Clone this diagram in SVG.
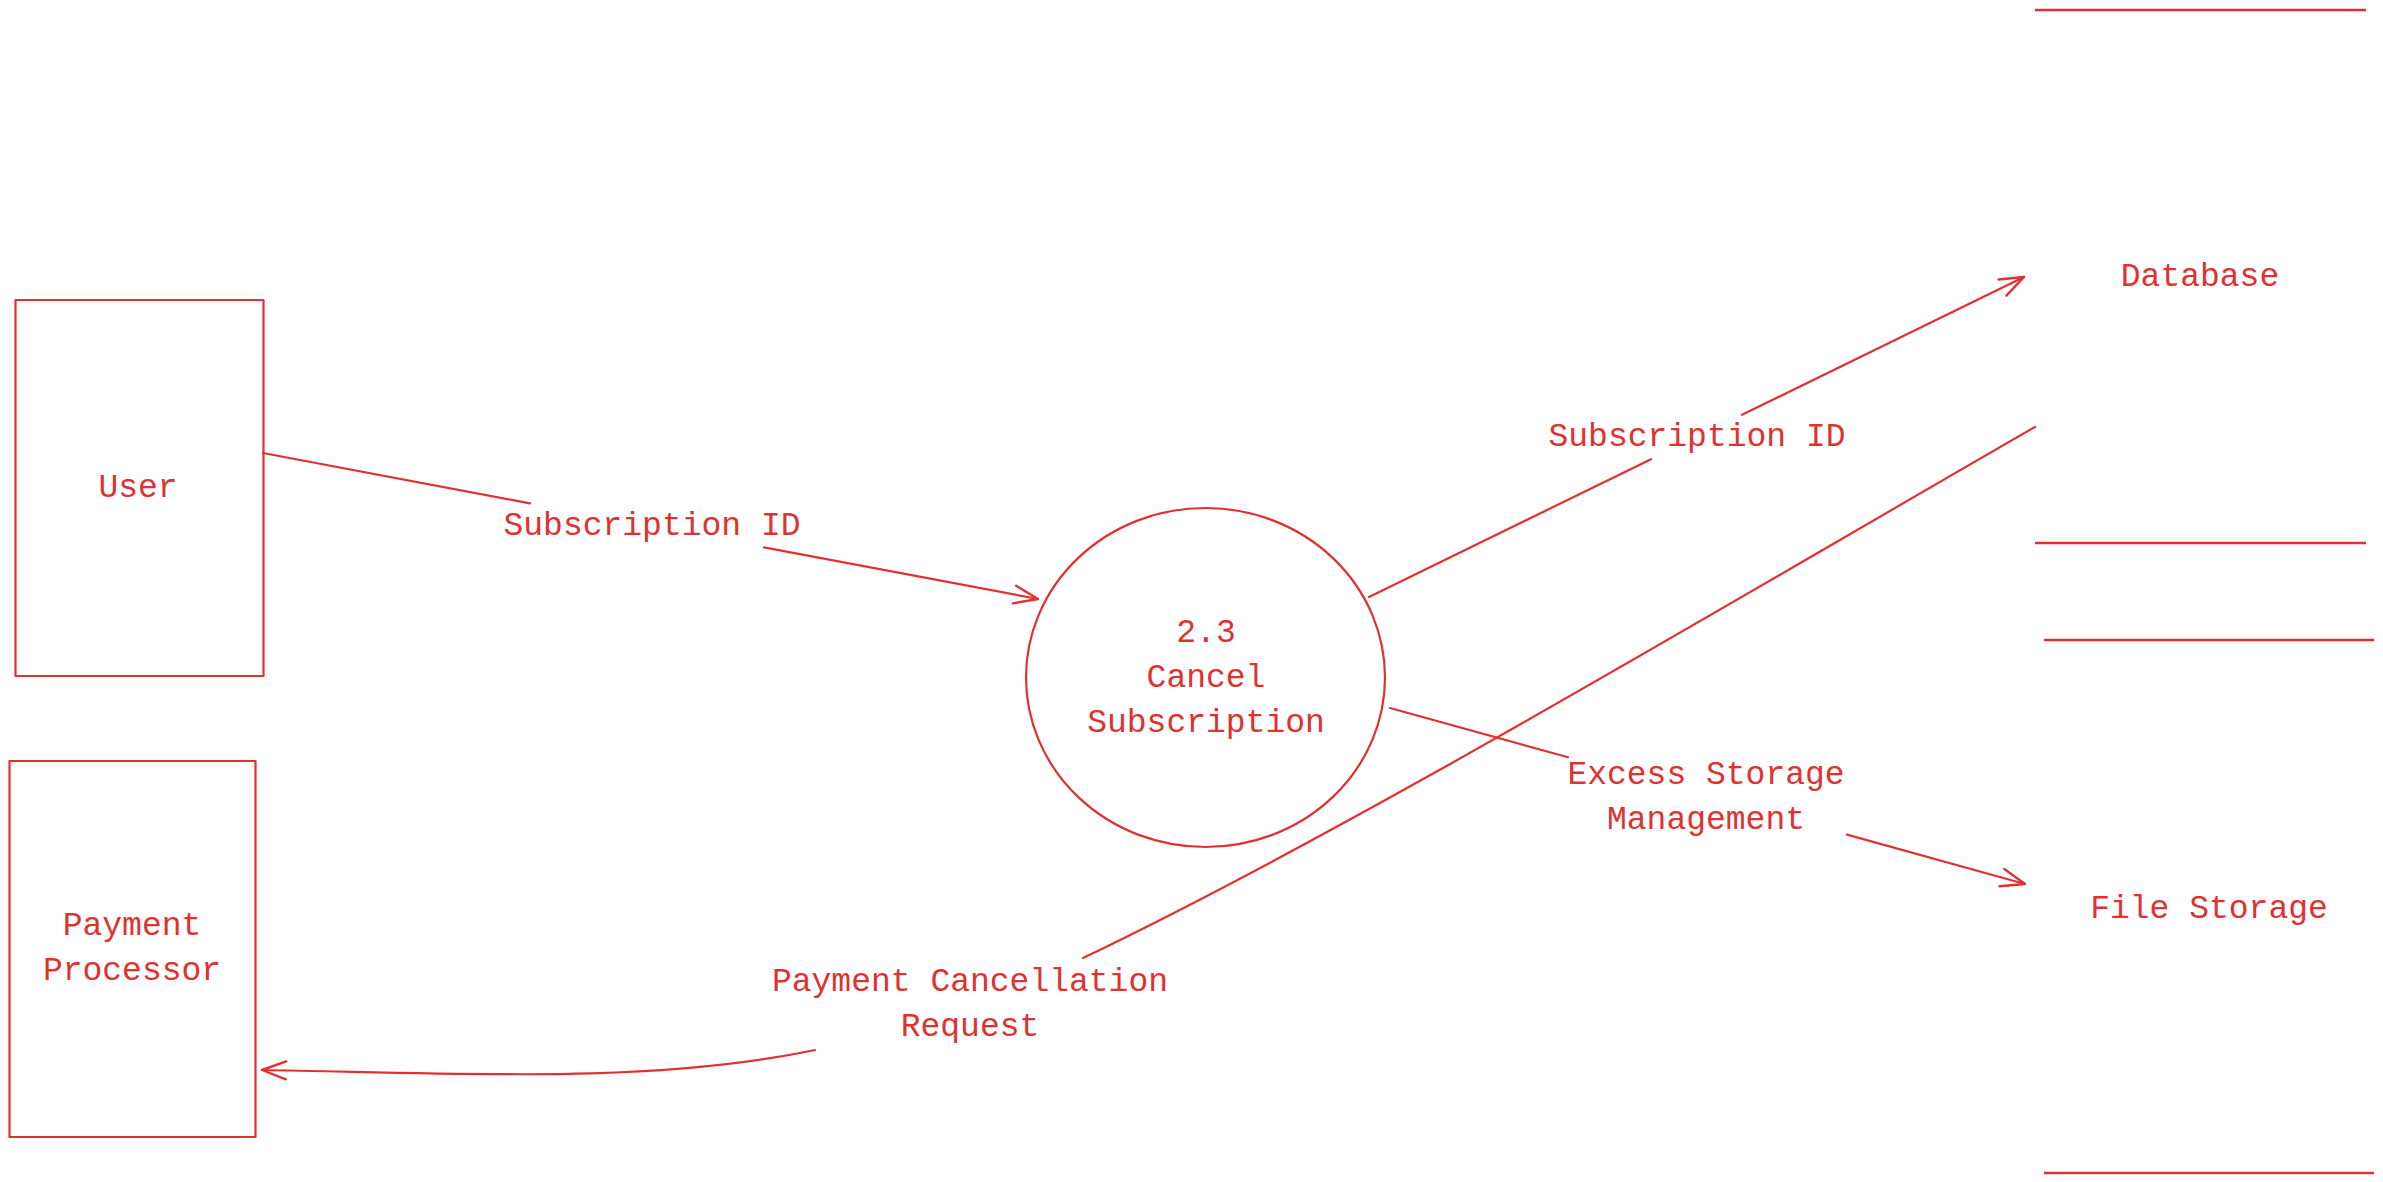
<svg xmlns="http://www.w3.org/2000/svg" width="2383" height="1182" viewBox="0 0 2383 1182">
<style>
.s{fill:none;stroke:#e03131;stroke-width:2.2;stroke-linecap:round;stroke-linejoin:round}
.st{fill:none;stroke:#e03131;stroke-width:2.5}
.t{font-family:"Liberation Mono","DejaVu Sans Mono",monospace;font-size:33px;fill:#e03131;text-anchor:middle}
</style>
<defs>
<marker id="ah" markerUnits="userSpaceOnUse" markerWidth="40" markerHeight="40" viewBox="-30 -20 40 40" refX="0" refY="0" orient="auto" overflow="visible">
<path d="M-24 -9 L0 0 L-24 9" fill="none" stroke="#e03131" stroke-width="2.4" stroke-linecap="round" stroke-linejoin="round"/>
</marker>
</defs>
<rect width="2383" height="1182" fill="#ffffff"/>
<g id="user">
<rect class="s" x="15.5" y="300" width="248" height="376"/>
<text class="t" x="138" y="497">User</text>
</g>
<g id="payment-processor">
<rect class="s" x="9.5" y="761" width="246" height="376"/>
<text class="t" x="132" y="935">Payment</text>
<text class="t" x="132" y="980">Processor</text>
</g>
<g id="process-2-3">
<ellipse class="s" cx="1205.5" cy="677.5" rx="179.5" ry="169.5"/>
<text class="t" x="1206" y="642">2.3</text>
<text class="t" x="1206" y="687">Cancel</text>
<text class="t" x="1206" y="732">Subscription</text>
</g>
<g id="database">
<line class="st" x1="2035" y1="10" x2="2366" y2="10"/>
<line class="st" x1="2035" y1="543" x2="2366" y2="543"/>
<text class="t" x="2200" y="286">Database</text>
</g>
<g id="file-storage">
<line class="st" x1="2044" y1="640" x2="2374" y2="640"/>
<line class="st" x1="2044" y1="1173" x2="2374" y2="1173"/>
<text class="t" x="2209" y="918">File Storage</text>
</g>
<g id="connectors">
<path class="s" d="M263 453 L530 503.3"/>
<path class="s" d="M764 547.4 L1038 599" marker-end="url(#ah)"/>
<text class="t" x="652" y="535">Subscription ID</text>
<path class="s" d="M1369 597 L1651 459.2"/>
<path class="s" d="M1742 414.8 L2024 277" marker-end="url(#ah)"/>
<text class="t" x="1697" y="446">Subscription ID</text>
<path class="s" d="M1390 708 L1568 757.3"/>
<path class="s" d="M1847 834.6 L2025 884" marker-end="url(#ah)"/>
<text class="t" x="1706" y="784">Excess Storage</text>
<text class="t" x="1706" y="829">Management</text>
<path class="s" d="M2035 427 C1700 620 1350 830 1083 958"/>
<path class="s" d="M815 1050 C650 1085 450 1073 262 1070" marker-end="url(#ah)"/>
<text class="t" x="970" y="991">Payment Cancellation</text>
<text class="t" x="970" y="1036">Request</text>
</g>
</svg>
